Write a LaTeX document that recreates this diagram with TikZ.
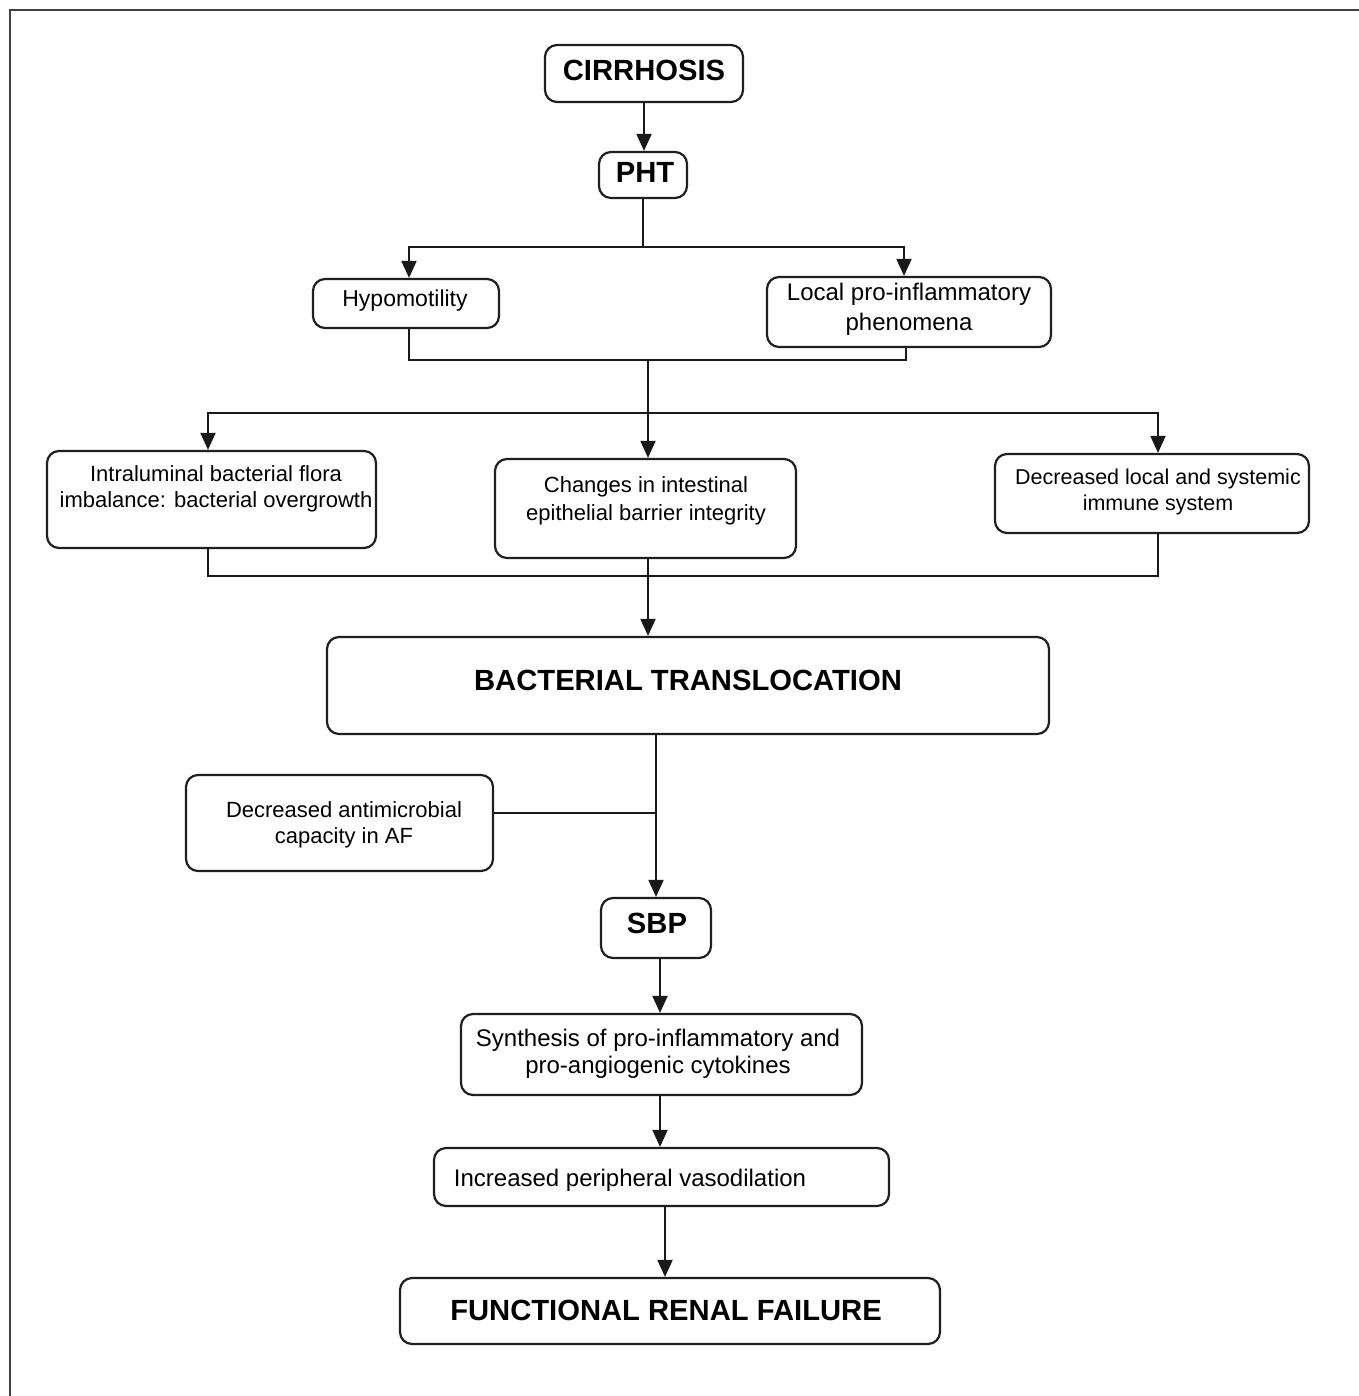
\documentclass[tikz,border=0pt]{standalone}
\usepackage{fontspec}
\setmainfont{Liberation Sans}
\usetikzlibrary{arrows.meta}
\begin{document}
\begin{tikzpicture}[x=1pt,y=-1pt,
  box/.style={draw=black!88, line width=2.2, rounded corners=12, inner sep=0, fill=white},
  conn/.style={draw=black!90, line width=1.9},
  arr/.style={conn, -{Triangle[length=17,width=15]}},
  tsm/.style={font=\fontsize{22}{26}\selectfont, align=center, inner sep=0},
  tmd/.style={font=\fontsize{24}{27}\selectfont, align=center, inner sep=0},
  tbig/.style={font=\fontsize{29.2}{32}\selectfont\bfseries, align=center, inner sep=0},
  frame/.style={draw=black!75, line width=2}]
\useasboundingbox (0,0) rectangle (1358,1396);
\fill[white] (0,0) rectangle (1358,1396);
\draw[frame] (1365,10) -- (9.5,10) -- (9.5,1405);

% boxes
\node[box, minimum width=198, minimum height=57] (cir) at (644,73.5) {};
\node[tbig] (cirT) at (644,70.5) {CIRRHOSIS};
\node[box, minimum width=88, minimum height=46] (pht) at (643,175) {};
\node[tbig] (phtT) at (645,172.5) {PHT};
\node[box, minimum width=186, minimum height=49] (hyp) at (406,303.5) {};
\node[tmd, font=\fontsize{23}{27}\selectfont] (hypT) at (405,301) {Hypomotility};
\node[box, minimum width=284, minimum height=70] (loc) at (909,312) {};
\node[tmd, font=\fontsize{24}{30}\selectfont] (locT) at (909,309) {Local pro-inflammatory\\phenomena};
\node[box, minimum width=329, minimum height=97] (intra) at (211.5,499.5) {};
\node[tsm] (intraT) at (216,489) {Intraluminal bacterial flora\\imbalance: bacterial overgrowth};
\node[box, minimum width=301, minimum height=99] (chg) at (645.5,508.5) {};
\node[tsm, font=\fontsize{22}{28}\selectfont] (chgT) at (646,501) {Changes in intestinal\\epithelial barrier integrity};
\node[box, minimum width=314, minimum height=79] (dec) at (1152,493.5) {};
\node[tsm, font=\fontsize{21.5}{26}\selectfont] (decT) at (1158,491.5) {Decreased local and systemic\\immune system};
\node[box, minimum width=722, minimum height=97] (bt) at (688,685.5) {};
\node[tbig] (btT) at (688,680.5) {BACTERIAL TRANSLOCATION};
\node[box, minimum width=307, minimum height=96] (anti) at (339.5,823) {};
\node[tsm] (antiT) at (344,825) {Decreased antimicrobial\\capacity in AF};
\node[box, minimum width=110, minimum height=60] (sbp) at (656,928) {};
\node[tbig] (sbpT) at (657,923.5) {SBP};
\node[box, minimum width=401, minimum height=81] (syn) at (661.5,1054.5) {};
\node[tmd] (synT) at (658,1053.5) {Synthesis of pro-inflammatory and\\pro-angiogenic cytokines};
\node[box, minimum width=455, minimum height=58] (inc) at (661.5,1177) {};
\node[tmd] (incT) at (630,1180) {Increased peripheral vasodilation};
\node[box, minimum width=540, minimum height=66] (frf) at (670,1311) {};
\node[tbig] (frfT) at (666,1310.5) {FUNCTIONAL RENAL FAILURE};

% junctions
\coordinate (j1) at (643,247);
\coordinate (j2) at (648,360);
\coordinate (j3) at (648,413);
\coordinate (j4) at (648,576);

% connectors
\draw[arr] (cir.south) -- (cir.south |- pht.north);
\draw[conn] (pht.south) -- (j1);
\draw[arr] (j1) -| ([xshift=3]hyp.north);
\draw[arr] (j1) -| ([xshift=-5]loc.north);
\draw[conn] ([xshift=3]hyp.south) -- ([xshift=3]hyp.south |- j2) -| ([xshift=-3]loc.south);
\draw[conn] (j2) -- (j3);
\draw[arr] (j3) -| ([xshift=-3.5]intra.north);
\draw[arr] (j3) -- (j3 |- chg.north);
\draw[arr] (j3) -| ([xshift=6]dec.north);
\draw[conn] ([xshift=-3.5]intra.south) -- ([xshift=-3.5]intra.south |- j4) -| ([xshift=6]dec.south);
\draw[arr] (chg.south -| j4) -- (j4 |- bt.north);
\draw[arr] (sbp.north |- bt.south) -- (sbp.north);
\draw[conn] ([yshift=10]anti.east) -- ([yshift=10]anti.east -| sbp.north);
\draw[arr] ([xshift=4]sbp.south) -- ([xshift=4]sbp.south |- syn.north);
\draw[arr] ([xshift=-1.5]syn.south) -- ([xshift=-1.5]syn.south |- inc.north);
\draw[arr] ([xshift=3.5]inc.south) -- ([xshift=3.5]inc.south |- frf.north);
\end{tikzpicture}
\end{document}
